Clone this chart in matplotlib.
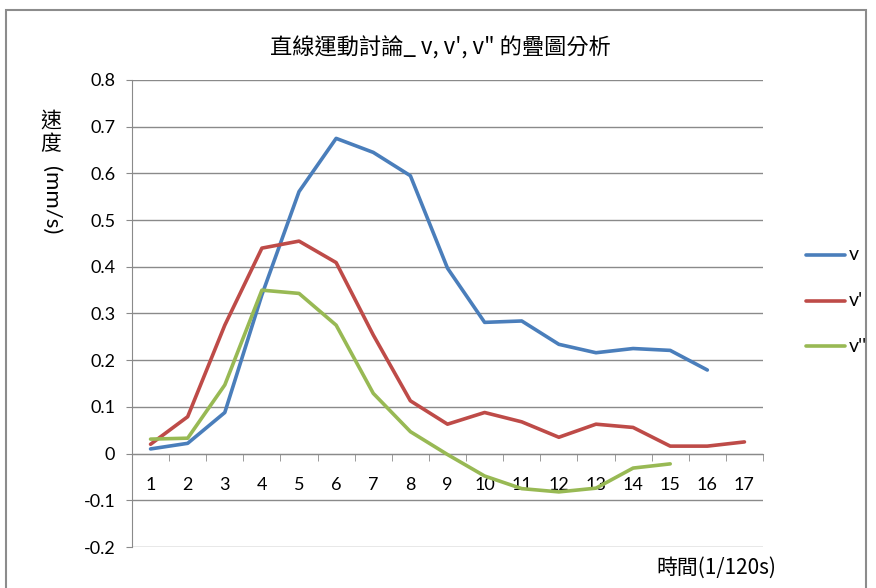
import matplotlib
matplotlib.use('Agg')
import matplotlib.pyplot as plt
from matplotlib.patches import Rectangle

# 時間 (1/120 s) 與三組速度資料
frames = list(range(1, 18))
v = [0.010, 0.022, 0.088, 0.340, 0.561, 0.675, 0.645, 0.595, 0.397, 0.281,
     0.284, 0.234, 0.216, 0.225, 0.221, 0.179]
v1 = [0.020, 0.079, 0.275, 0.440, 0.455, 0.409, 0.254, 0.113, 0.063, 0.088,
      0.068, 0.035, 0.063, 0.056, 0.016, 0.016, 0.025]
v2 = [0.031, 0.033, 0.147, 0.350, 0.343, 0.275, 0.129, 0.047, -0.002, -0.048,
      -0.075, -0.082, -0.074, -0.031, -0.022]

series = [(v, "v", "#4A7EBB"), (v1, "v'", "#BE4B48"), (v2, "v''", "#98B954")]

plt.rcParams['font.family'] = ['Lato', 'Noto Sans CJK TC', 'DejaVu Sans']

W, H = 876, 588
fig = plt.figure(figsize=(W / 100, H / 100), dpi=100)

# 外框
fig.patches.append(Rectangle((6 / W, -0.1), 860 / W, 1.1 - 10 / H,
                             transform=fig.transFigure, fill=False,
                             edgecolor='#8c8c8c', linewidth=1.5))

ax = fig.add_axes([132 / W, (H - 547) / H, (763 - 132) / W, (547 - 80) / H])

for data, name, color in series:
    ax.plot(frames[:len(data)], data, color=color, linewidth=2.6,
            solid_capstyle='round', label=name, zorder=3)

ax.set_xlim(0.5, 17.5)
ax.set_ylim(-0.2, 0.8)
ax.set_yticks([i / 10 for i in range(-2, 9)])
ax.set_yticklabels(['-0.2', '-0.1', '0', '0.1', '0.2', '0.3', '0.4', '0.5',
                    '0.6', '0.7', '0.8'])
ax.grid(axis='y', color='#8a8a8a', linewidth=1.0)
ax.set_axisbelow(True)

for s in ['top', 'right']:
    ax.spines[s].set_visible(False)
ax.spines['left'].set_color('#8a8a8a')
ax.spines['bottom'].set_position(('data', 0))
ax.spines['bottom'].set_color('#8a8a8a')

ax.set_xticks(frames)
ax.set_xticks([i + 0.5 for i in range(0, 18)], minor=True)
ax.tick_params(axis='x', which='major', length=0, pad=17, labelsize=13)
ax.tick_params(axis='x', which='minor', length=5, color='#8a8a8a', direction='out')
ax.tick_params(axis='y', length=4, color='#8a8a8a', labelsize=13, pad=8)

fig.text(440 / W, 1 - 48 / H, '直線運動討論_ v, v\', v" 的疊圖分析',
         ha='center', va='center', fontsize=16, family=['Noto Sans CJK TC', 'DejaVu Sans'])

# 縱軸標題：中文直排，單位旋轉
fig.text(51 / W, 1 - 121 / H, '速', ha='center', va='center', fontsize=15,
         family=['Noto Sans CJK TC'])
fig.text(51 / W, 1 - 144 / H, '度', ha='center', va='center', fontsize=15,
         family=['Noto Sans CJK TC'])
fig.text(51 / W, 1 - 200 / H, '(mm/s)', ha='center', va='center', fontsize=16,
         rotation=-90)

fig.text(776 / W, 1 - 568 / H, '時間(1/120s)', ha='right', va='center',
         fontsize=15, family=['Noto Sans CJK TC', 'DejaVu Sans'])

# 圖例
for i, (data, name, color) in enumerate(series):
    y = 1 - (255 + 45.5 * i) / H
    fig.add_artist(plt.Line2D([806 / W, 845 / W], [y, y], color=color,
                              linewidth=2.6, solid_capstyle='round'))
    fig.text(849 / W, y, name, ha='left', va='center', fontsize=14)

fig.savefig('out.png', dpi=100)
